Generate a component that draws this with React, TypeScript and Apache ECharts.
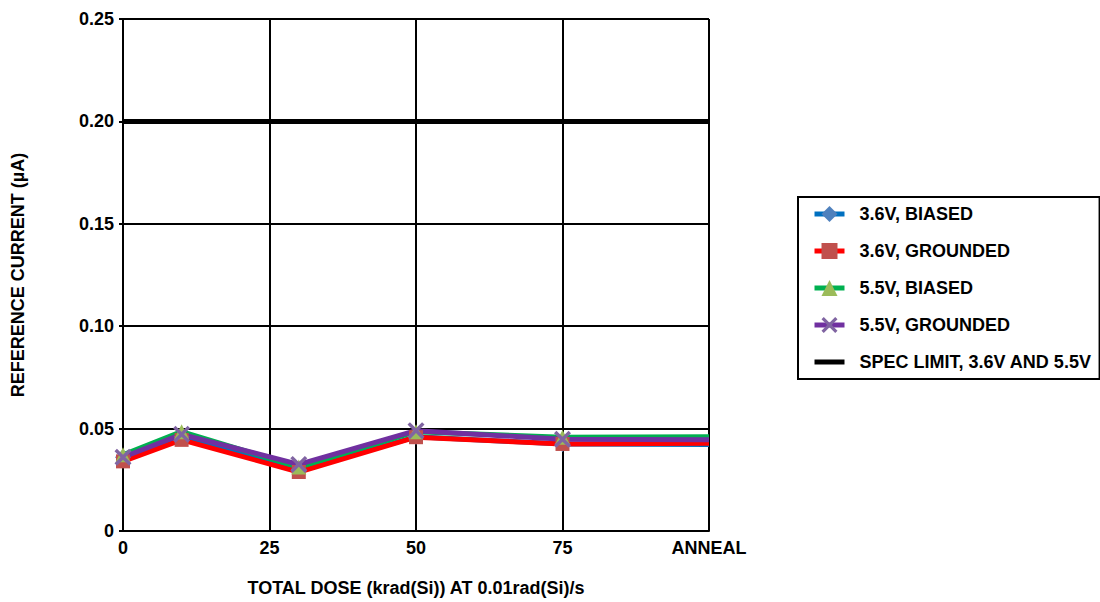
import React, { useEffect, useRef } from "react";
import * as echarts from "echarts";

const doses = [0, 10, 30, 50, 75, 100];
const xTickLabels: Record<number, string> = { 0: "0", 25: "25", 50: "50", 75: "75", 100: "ANNEAL" };
const biased36 = [0.036, 0.046, 0.030, 0.046, 0.0425, 0.0422];
const grounded36 = [0.034, 0.0445, 0.0288, 0.0458, 0.0425, 0.0428];
const biased55 = [0.0372, 0.0485, 0.0312, 0.0485, 0.0458, 0.046];
const grounded55 = [0.036, 0.0472, 0.0325, 0.049, 0.0448, 0.0445];
const specLimit = 0.2;

const seriesNames = ["3.6V, BIASED", "3.6V, GROUNDED", "5.5V, BIASED", "5.5V, GROUNDED", "SPEC LIMIT, 3.6V AND 5.5V"];

const X_SYMBOL = "path://M0,2 L2,0 L7,5 L12,0 L14,2 L9,7 L14,12 L12,14 L7,9 L2,14 L0,12 L5,7 Z";
const BAR_ICON = "path://M0,0 L30,0 L30,5 L0,5 Z";

function toData(vals: number[]) {
  return vals.map((v, i) =>
    i === vals.length - 1 ? { value: [doses[i], v], symbolSize: 0 } : { value: [doses[i], v] }
  );
}

export default function App() {
  const ref = useRef<HTMLDivElement>(null);
  useEffect(() => {
    if (!ref.current) return;
    const chart = echarts.init(ref.current, undefined, { renderer: "svg" });
    const font = "Liberation Sans, Arial, sans-serif";
    const FS = 18;
    const mk = (name: string, vals: number[], lineColor: string, markColor: string, symbol: string, size: number) => ({
      name,
      type: "line",
      data: toData(vals),
      symbol,
      symbolSize: size,
      showAllSymbol: true,
      lineStyle: { color: lineColor, width: 5 },
      itemStyle: { color: markColor, borderWidth: 0 },
      z: 3,
    });
    chart.setOption({
      animation: false,
      backgroundColor: "#fff",
      textStyle: { fontFamily: font },
      grid: { left: 123, width: 586, top: 19, height: 515, containLabel: false },
      legend: {
        orient: "vertical",
        left: 798,
        top: 197,
        data: [
          seriesNames[0],
          seriesNames[1],
          seriesNames[2],
          seriesNames[3],
          { name: seriesNames[4], icon: BAR_ICON },
        ],
        itemWidth: 30,
        itemHeight: 20,
        itemGap: 19,
        padding: [8, 8, 8, 14],
        borderColor: "#000",
        borderWidth: 2,
        lineStyle: { width: 5 },
        textStyle: { fontFamily: font, fontWeight: "bold", fontSize: FS, color: "#000", padding: [0, 0, 0, 10] },
      },
      xAxis: {
        type: "value",
        min: 0,
        max: 100,
        interval: 25,
        name: "TOTAL DOSE (krad(Si)) AT 0.01rad(Si)/s",
        nameLocation: "middle",
        nameGap: 48,
        nameTextStyle: { fontFamily: font, fontWeight: "bold", fontSize: FS, color: "#000" },
        axisLine: { lineStyle: { color: "#000", width: 2 } },
        axisTick: { show: false },
        axisLabel: {
          margin: 8,
          fontFamily: font,
          fontWeight: "bold",
          fontSize: FS,
          color: "#000",
          formatter: (v: number) => xTickLabels[v] ?? "",
        },
        splitLine: { show: true, lineStyle: { color: "#000", width: 2 } },
      },
      yAxis: {
        type: "value",
        min: 0,
        max: 0.25,
        interval: 0.05,
        name: "REFERENCE CURRENT (µA)",
        nameLocation: "middle",
        nameGap: 96,
        nameTextStyle: { fontFamily: font, fontWeight: "bold", fontSize: FS, color: "#000" },
        axisLine: { show: true, lineStyle: { color: "#000", width: 2 } },
        axisTick: { show: true, length: 4, lineStyle: { color: "#000", width: 2 } },
        axisLabel: {
          margin: 9,
          fontFamily: font,
          fontWeight: "bold",
          fontSize: FS,
          color: "#000",
          formatter: (v: number) => (v === 0 ? "0" : v.toFixed(2)),
        },
        splitLine: { show: true, lineStyle: { color: "#000", width: 2 } },
      },
      series: [
        mk(seriesNames[0], biased36, "#0070C0", "#4F81BD", "diamond", 16),
        mk(seriesNames[1], grounded36, "#FF0000", "#C0504D", "rect", 14),
        mk(seriesNames[2], biased55, "#00B050", "#9BBB59", "triangle", 15),
        mk(seriesNames[3], grounded55, "#7030A0", "#8064A2", X_SYMBOL, 17),
        {
          name: seriesNames[4],
          type: "line",
          data: [[0, specLimit], [100, specLimit]],
          symbol: "none",
          lineStyle: { color: "#000", width: 5 },
          itemStyle: { color: "#000" },
          z: 2,
        },
      ],
    });
    return () => chart.dispose();
  }, []);
  return <div ref={ref} style={{ position: "fixed", left: 0, top: 0, width: 1100, height: 602 }} />;
}
